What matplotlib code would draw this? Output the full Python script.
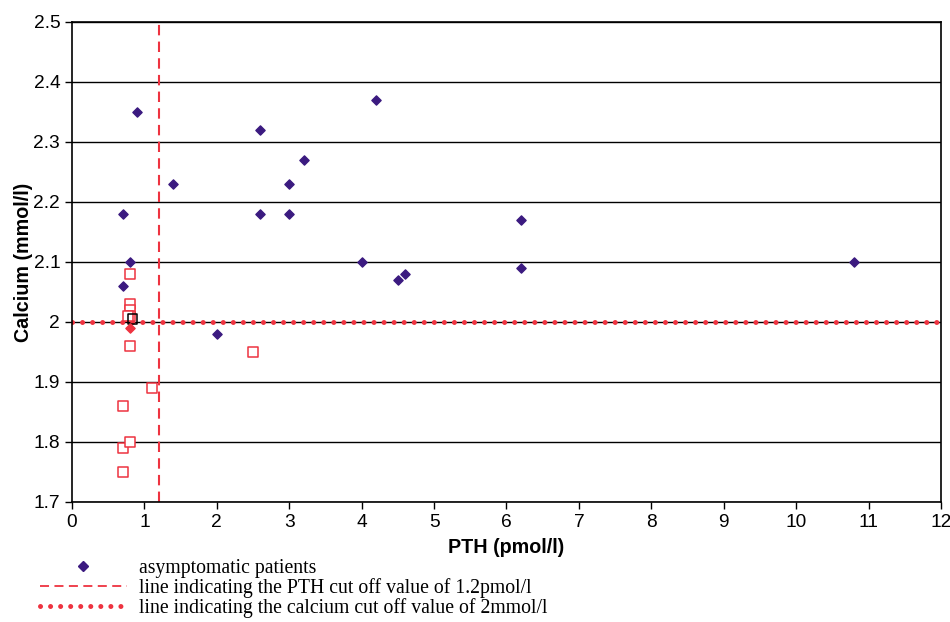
import matplotlib
matplotlib.use('Agg')
import matplotlib.pyplot as plt
from matplotlib.lines import Line2D

# asymptomatic patients (PTH, calcium)
asym_pth = [0.9, 0.7, 0.8, 0.7, 1.4, 2.0, 2.6, 2.6, 3.0, 3.0, 3.2, 4.0, 4.2, 4.5, 4.6, 6.2, 6.2, 10.8]
asym_ca = [2.35, 2.18, 2.10, 2.06, 2.23, 1.98, 2.32, 2.18, 2.23, 2.18, 2.27, 2.10, 2.37, 2.07, 2.08, 2.17, 2.09, 2.10]

# symptomatic patients (open red squares)
sym_pth = [0.8, 0.8, 0.8, 0.8, 0.78, 0.8, 1.1, 0.7, 0.7, 0.8, 0.7, 2.5]
sym_ca = [2.08, 2.03, 2.02, 2.01, 2.01, 1.96, 1.89, 1.86, 1.79, 1.80, 1.75, 1.95]

# odd ones
red_diam_pth, red_diam_ca = [0.8], [1.99]
black_sq_pth, black_sq_ca = [0.84], [2.005]

pth_cut = 1.2
ca_cut = 2.0

x_ticks = list(range(0, 13))
y_ticks = [1.7, 1.8, 1.9, 2.0, 2.1, 2.2, 2.3, 2.4, 2.5]
y_ticklabels = ['1.7', '1.8', '1.9', '2', '2.1', '2.2', '2.3', '2.4', '2.5']

plt.rcParams['font.family'] = ['Liberation Sans', 'DejaVu Sans']

fig = plt.figure(figsize=(9.5, 6.22), dpi=100)
ax = fig.add_axes([72 / 950, 120 / 622, 869 / 950, 480 / 622])

purple = '#3b1a80'
red = '#ee3340'

for y in y_ticks:
    ax.axhline(y, color='black', lw=1, zorder=1)

ax.axvline(pth_cut, color=red, lw=1.5, dashes=(5, 3), zorder=2)
ax.axhline(ca_cut, color=red, lw=3.6, dashes=(0.01, 2.0), dash_capstyle='round', zorder=2)

ax.scatter(sym_pth, sym_ca, marker='s', s=42, facecolors='white', edgecolors=red, linewidths=1.1, zorder=3)
ax.scatter(black_sq_pth, black_sq_ca, marker='s', s=42, facecolors='none', edgecolors='black', linewidths=1.1, zorder=4)
ax.scatter(red_diam_pth, red_diam_ca, marker='D', s=22, color=red, zorder=4)
ax.scatter(asym_pth, asym_ca, marker='D', s=22, color=purple, zorder=4)

ax.set_xlim(0, 12)
ax.set_ylim(1.7, 2.5)
ax.set_xticks(x_ticks)
ax.set_yticks(y_ticks)
ax.set_yticklabels(y_ticklabels)
ax.tick_params(direction='out', length=5, labelsize=13.8, width=1)
ax.set_xlabel('PTH (pmol/l)', fontsize=14.2, fontweight='bold', labelpad=5)
ax.set_ylabel('Calcium (mmol/l)', fontsize=14.2, fontweight='bold', labelpad=0)
for s in ax.spines.values():
    s.set_linewidth(1.2)

handles = [
    Line2D([], [], marker='D', ls='none', color=purple, markersize=5),
    Line2D([], [], color=red, lw=1.3, dashes=(5, 3)),
    Line2D([], [], color=red, lw=3.6, dashes=(0.01, 2.0), dash_capstyle='round'),
]
labels = [
    'asymptomatic patients',
    'line indicating the PTH cut off value of 1.2pmol/l',
    'line indicating the calcium cut off value of 2mmol/l',
]
fig.legend(handles, labels, loc='upper left', bbox_to_anchor=(40 / 950, 1 - 559 / 622),
           frameon=False, handlelength=4.4, handletextpad=0.6, labelspacing=0.0,
           borderaxespad=0, borderpad=0,
           prop={'family': ['Liberation Serif', 'DejaVu Serif'], 'size': 14.2})

fig.savefig('out.png', dpi=100)
